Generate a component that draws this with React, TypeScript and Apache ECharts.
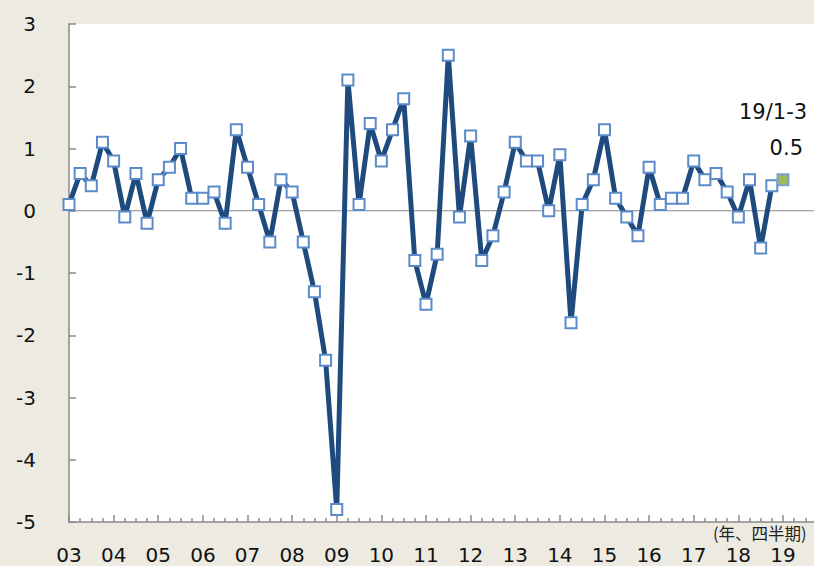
import React, { useEffect, useRef } from "react";
import * as echarts from "echarts";

const yearLabels = ["03","04","05","06","07","08","09","10","11","12","13","14","15","16","17","18","19"];

// 実質GDP成長率（前期比、%）2003Q1 – 2019Q1
const growth: number[] = [
  0.1, 0.6, 0.4, 1.1,
  0.8, -0.1, 0.6, -0.2,
  0.5, 0.7, 1.0, 0.2,
  0.2, 0.3, -0.2, 1.3,
  0.7, 0.1, -0.5, 0.5,
  0.3, -0.5, -1.3, -2.4,
  -4.8, 2.1, 0.1, 1.4,
  0.8, 1.3, 1.8, -0.8,
  -1.5, -0.7, 2.5, -0.1,
  1.2, -0.8, -0.4, 0.3,
  1.1, 0.8, 0.8, 0.0,
  0.9, -1.8, 0.1, 0.5,
  1.3, 0.2, -0.1, -0.4,
  0.7, 0.1, 0.2, 0.2,
  0.8, 0.5, 0.6, 0.3,
  -0.1, 0.5, -0.6, 0.4,
  0.5,
];

const latestLabel = "19/1-3";
const unitLabel = "(年、四半期)";

const FONT = "'DejaVu Sans', Verdana, sans-serif";

export default function App() {
  const ref = useRef<HTMLDivElement>(null);

  useEffect(() => {
    document.body.style.margin = "0";
    const chart = echarts.init(ref.current!, null, { renderer: "svg" });
    const last = growth.length - 1;
    const data = growth.map((v, i) =>
      i === last
        ? { value: [i, v], itemStyle: { color: "#9BBB59", borderColor: "#7EA0D0" } }
        : { value: [i, v] }
    );
    const totalQuarters = yearLabels.length * 4;

    chart.setOption({
      animation: false,
      backgroundColor: "#EDEBE1",
      grid: {
        left: 69,
        top: 24,
        bottom: 44,
        width: 758.6,
        show: true,
        backgroundColor: "#FFFFFF",
        borderWidth: 0,
        containLabel: false,
        outerBoundsMode: "none",
      },
      xAxis: {
        type: "value",
        min: 0,
        max: totalQuarters,
        interval: 4,
        axisLine: { show: true, onZero: false, lineStyle: { color: "#8A8A8A", width: 1.5 } },
        axisTick: { show: true, inside: true, length: 7, lineStyle: { color: "#8A8A8A", width: 1.5 } },
        minorTick: { show: true, splitNumber: 4, length: 4, lineStyle: { color: "#8A8A8A", width: 1.5 } },
        splitLine: { show: false },
        minorSplitLine: { show: false },
        axisLabel: {
          margin: 23,
          fontSize: 20,
          color: "#111",
          fontFamily: FONT,
          showMaxLabel: false,
          formatter: (v: number) => {
            const idx = Math.round(v / 4);
            return v % 4 === 0 && idx < yearLabels.length ? yearLabels[idx] : "";
          },
        },
      },
      yAxis: {
        type: "value",
        min: -5,
        max: 3,
        interval: 1,
        axisLine: { show: true, lineStyle: { color: "#8A8A8A", width: 1.5 } },
        axisTick: { show: true, inside: true, length: 7, lineStyle: { color: "#8A8A8A", width: 1.5 } },
        splitLine: { show: false },
        axisLabel: { margin: 33, fontSize: 20, color: "#111", fontFamily: FONT },
      },
      series: [
        {
          type: "line",
          data: [[0, 0], [totalQuarters, 0]],
          symbol: "none",
          silent: true,
          z: 1,
          lineStyle: { color: "#8A8A8A", width: 1.2 },
        },
        {
          type: "line",
          data,
          z: 3,
          symbol: "rect",
          symbolSize: 11,
          lineStyle: { color: "#1F4A7E", width: 5 },
          itemStyle: { color: "#FFFFFF", borderColor: "#5B8BC8", borderWidth: 2 },
          label: { show: false },
        },
      ],
      graphic: [
        {
          type: "text",
          left: 739,
          top: 101,
          style: { text: latestLabel, fontSize: 21, fill: "#111", fontFamily: FONT },
        },
        {
          type: "text",
          right: 11,
          top: 137,
          style: { text: growth[last].toFixed(1), fontSize: 21, fill: "#111", fontFamily: FONT },
        },
        {
          type: "text",
          left: 713,
          top: 524,
          style: {
            text: unitLabel,
            fontSize: 16.5,
            lineHeight: 17,
            fill: "#222",
            fontFamily: "'Noto Sans CJK JP', sans-serif",
          },
        },
      ],
    });
    return () => chart.dispose();
  }, []);

  return (
    <div
      ref={ref}
      style={{ position: "fixed", left: 0, top: 0, width: 814, height: 566 }}
    />
  );
}
